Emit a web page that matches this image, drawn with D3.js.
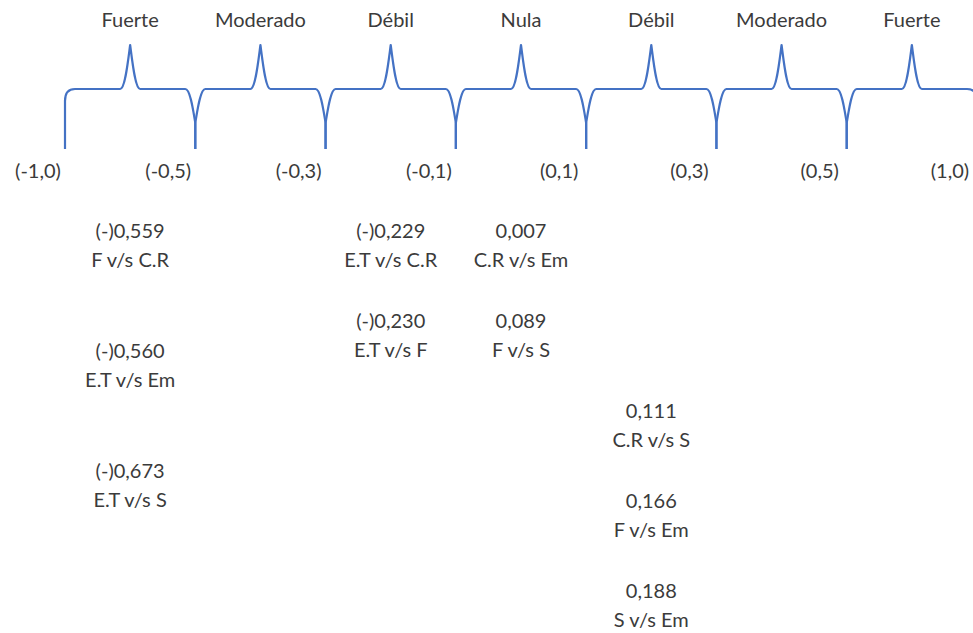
<!DOCTYPE html>
<html>
<head>
<meta charset="utf-8">
<script src="https://cdn.jsdelivr.net/npm/d3@7"></script>
<style>
  html, body { margin: 0; padding: 0; background: #ffffff; }
  svg { display: block; }
  text { font-family: Lato, "Open Sans", sans-serif; fill: #3b3b3b; }
</style>
</head>
<body>
<div id="chart"></div>
<script>
// ---- data ----
const categories = ["Fuerte", "Moderado", "Débil", "Nula", "Débil", "Moderado", "Fuerte"];
const tickLabels = ["(-1,0)", "(-0,5)", "(-0,3)", "(-0,1)", "(0,1)", "(0,3)", "(0,5)", "(1,0)"];
const corrValues = [-0.559, -0.560, -0.673, -0.229, -0.230, 0.007, 0.089, 0.111, 0.166, 0.188];
const corrPairs = ["F v/s C.R", "E.T v/s Em", "E.T v/s S", "E.T v/s C.R", "E.T v/s F",
                   "C.R v/s Em", "F v/s S", "C.R v/s S", "F v/s Em", "S v/s Em"];
const corrCategory = [0, 0, 0, 2, 2, 3, 3, 4, 4, 4];
const corrRow = [0, 4, 8, 0, 3, 0, 3, 6, 9, 12];

// ---- layout ----
const W = 973, H = 633;
const svg = d3.select("#chart").append("svg").attr("width", W).attr("height", H);
svg.append("rect").attr("width", W).attr("height", H).attr("fill", "#ffffff");

const xBound = d3.scalePoint().domain(tickLabels).range([65, 977]);
const xBand = d3.scaleBand().domain(d3.range(categories.length)).range([65, 977]).padding(0);
const yRow = d3.scaleLinear().domain([0, 12]).range([238, 598]);

const yTop = 89, yBot = 149, yPeak = 45;
const blue = "#4472C4";
const last = categories.length - 1;

function bracePath(i) {
  const x0 = xBand(i), x1 = x0 + xBand.bandwidth(), c = x0 + xBand.bandwidth() / 2;
  const p = d3.path();
  p.moveTo(x0, yBot);
  if (i === 0) {
    // outer rounded corner
    p.lineTo(x0, yTop + 12);
    p.bezierCurveTo(x0, yTop + 4, x0 + 3, yTop, x0 + 10, yTop);
  } else {
    // half of a downward cusp
    p.lineTo(x0, yTop + 34);
    p.bezierCurveTo(x0 + 2, yTop + 22, x0 + 5, yTop, x0 + 10, yTop);
  }
  // flat to peak
  p.lineTo(c - 10, yTop);
  p.bezierCurveTo(c - 5, yTop, c - 2, yTop - 29, c, yPeak);
  p.bezierCurveTo(c + 2, yTop - 29, c + 5, yTop, c + 10, yTop);
  // flat to right end
  p.lineTo(x1 - 10, yTop);
  if (i === last) {
    p.bezierCurveTo(x1 - 3, yTop, x1, yTop + 4, x1, yTop + 12);
  } else {
    p.bezierCurveTo(x1 - 5, yTop, x1 - 2, yTop + 22, x1, yTop + 34);
  }
  p.lineTo(x1, yBot);
  return p.toString();
}

svg.append("g").selectAll("path")
  .data(categories)
  .join("path")
  .attr("d", (d, i) => bracePath(i))
  .attr("fill", "none")
  .attr("stroke", blue)
  .attr("stroke-width", 2.2)
  .attr("stroke-linejoin", "round");

// category labels
svg.append("g").selectAll("text")
  .data(categories)
  .join("text")
  .attr("x", (d, i) => xBand(i) + xBand.bandwidth() / 2)
  .attr("y", 27)
  .attr("text-anchor", "middle")
  .attr("font-size", 20)
  .text(d => d);

// boundary tick labels
svg.append("g").selectAll("text")
  .data(tickLabels)
  .join("text")
  .attr("x", d => xBound(d) - 27)
  .attr("y", 178)
  .attr("text-anchor", "middle")
  .attr("font-size", 20)
  .text(d => d);

// correlation entries
const fmt = d3.format(".3f");
const fmtVal = v => (v < 0 ? "(-)" : "") + fmt(Math.abs(v)).replace(".", ",");
const entries = corrValues.map((v, i) => ({ v, pair: corrPairs[i], cat: corrCategory[i], row: corrRow[i] }));

const eg = svg.append("g").selectAll("g")
  .data(entries)
  .join("g")
  .attr("transform", d => `translate(${xBand(d.cat) + xBand.bandwidth() / 2},${yRow(d.row)})`);
eg.append("text")
  .attr("text-anchor", "middle")
  .attr("font-size", 20)
  .text(d => fmtVal(d.v));
eg.append("text")
  .attr("y", 29)
  .attr("text-anchor", "middle")
  .attr("font-size", 20)
  .text(d => d.pair);
</script>
</body>
</html>
